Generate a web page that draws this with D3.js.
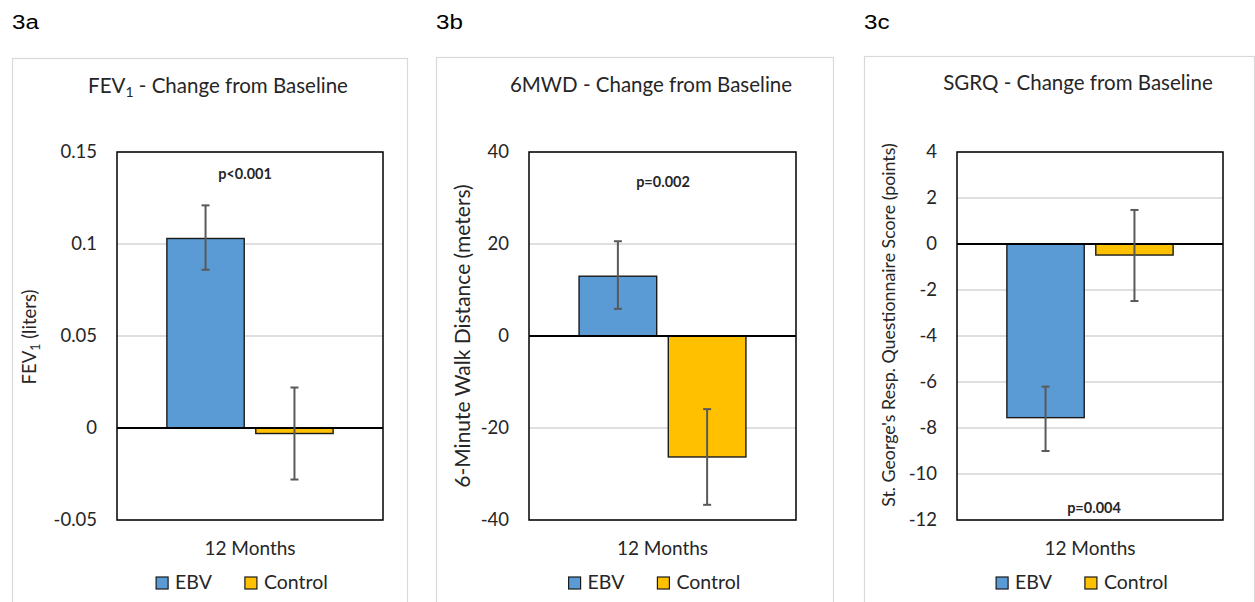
<!DOCTYPE html>
<html><head><meta charset="utf-8">
<script src="https://cdn.jsdelivr.net/npm/d3@7"></script>
<style>body{margin:0;background:#fff}svg{display:block}</style>
</head><body>
<svg id="c" width="1255" height="602"></svg>
<script>
// ---- data ----
const panelLabels = ["3a", "3b", "3c"];
const titleMain = ["FEV", "6MWD", "SGRQ"];
const titleSub = ["1", "", ""];
const titleRest = " - Change from Baseline";
const yTitleMain = ["FEV", "6-Minute Walk Distance (meters)", "St. George's Resp. Questionnaire Score (points)"];
const yTitleSub = ["1", "", ""];
const yTitleRest = [" (liters)", "", ""];
const categories = ["12 Months"];
const seriesNames = ["EBV", "Control"];
const ebvValues = [0.103, 13.0, -7.55];
const controlValues = [-0.003, -26.3, -0.48];
const ebvErrLow = [0.086, 5.9, -9.0];
const ebvErrHigh = [0.121, 20.6, -6.2];
const controlErrLow = [-0.028, -36.7, -2.48];
const controlErrHigh = [0.022, -15.9, 1.48];
const yTicks = [
  [-0.05, 0, 0.05, 0.1, 0.15],
  [-40, -20, 0, 20, 40],
  [-12, -10, -8, -6, -4, -2, 0, 2, 4]
];
const pLabels = ["p<0.001", "p=0.002", "p=0.004"];
const seriesColors = ["#5b9bd5", "#ffc000"];

// ---- layout ----
const FONT = "Lato, 'Open Sans', sans-serif";
const TXT = "#262626";
const plotTop = 152, plotBottom = 520;
const layout = [
  {box: [12, 58, 407], plot: [117, 383], titleX: 218, titleY: 93, yTitleX: 30, yTitleY: 337, yTitleSize: 18.5, p: [245, 179]},
  {box: [436, 57, 833], plot: [529, 796], titleX: 651, titleY: 92, yTitleX: 463, yTitleY: 336, yTitleSize: 21, p: [663, 187]},
  {box: [864, 56, 1254], plot: [957, 1223], titleX: 1078, titleY: 90, yTitleX: 889, yTitleY: 325, yTitleSize: 17.8, p: [1094, 513]}
];

const svg = d3.select("#c");
svg.append("rect").attr("width", 1255).attr("height", 602).attr("fill", "#fff");

panelLabels.forEach((lab, i) => {
  const L = layout[i];
  const g = svg.append("g");
  // panel label
  g.append("text").attr("transform", `translate(${L.box[0]},29) scale(1.15,1)`)
    .attr("font-family", "'Liberation Sans', Arial, sans-serif").attr("font-size", 21)
    .attr("fill", "#000").text(lab);
  // chart area border
  g.append("rect").attr("x", L.box[0] + 0.5).attr("y", L.box[1] + 0.5)
    .attr("width", L.box[2] - L.box[0]).attr("height", 620 - L.box[1])
    .attr("fill", "#fff").attr("stroke", "#d9d9d9").attr("stroke-width", 1.2);

  // title
  const t = g.append("text").attr("x", L.titleX).attr("y", L.titleY)
    .attr("text-anchor", "middle").attr("font-family", FONT).attr("font-size", 20.5).attr("fill", TXT);
  t.append("tspan").text(titleMain[i]);
  if (titleSub[i]) {
    t.append("tspan").attr("dy", 4).attr("font-size", 14).text(titleSub[i]);
    t.append("tspan").attr("dy", -4).text(titleRest);
  } else t.append("tspan").text(titleRest);

  const ticks = yTicks[i];
  const y = d3.scaleLinear().domain(d3.extent(ticks)).range([plotBottom, plotTop]);
  const x0 = d3.scaleBand().domain(categories).range(L.plot).paddingInner(0).paddingOuter(0.3);
  const x1 = d3.scaleBand().domain(seriesNames).range([0, x0.bandwidth()]).paddingInner(0.13);

  // gridlines
  g.append("g").selectAll("line").data(ticks.filter(v => v !== 0))
    .join("line").attr("x1", L.plot[0]).attr("x2", L.plot[1])
    .attr("y1", d => y(d)).attr("y2", d => y(d))
    .attr("stroke", "#bfbfbf").attr("stroke-width", 1.2);

  // y axis tick labels
  const axis = d3.axisLeft(y).tickValues(ticks).tickSize(0).tickPadding(20).tickFormat(d3.format("~g"));
  const ag = g.append("g").attr("transform", `translate(${L.plot[0]},0)`).call(axis);
  ag.select(".domain").remove();
  ag.selectAll("text").attr("font-family", FONT).attr("font-size", 18.5).attr("fill", TXT)
    .text(d => (d < 0 ? "-" : "") + d3.format("~g")(Math.abs(d)));

  // y title
  const yt = g.append("text").attr("transform", `translate(${L.yTitleX},${L.yTitleY}) rotate(-90)`)
    .attr("text-anchor", "middle").attr("dy", "0.35em")
    .attr("font-family", FONT).attr("font-size", L.yTitleSize).attr("fill", TXT);
  yt.append("tspan").text(yTitleMain[i]);
  if (yTitleSub[i]) {
    yt.append("tspan").attr("dy", 4).attr("font-size", 12.5).text(yTitleSub[i]);
    yt.append("tspan").attr("dy", -4).text(yTitleRest[i]);
  }

  // bars
  const rows = [
    {s: seriesNames[0], v: ebvValues[i], lo: ebvErrLow[i], hi: ebvErrHigh[i], c: seriesColors[0]},
    {s: seriesNames[1], v: controlValues[i], lo: controlErrLow[i], hi: controlErrHigh[i], c: seriesColors[1]}
  ];
  const bx = d => x0(categories[0]) + x1(d.s);
  g.append("g").selectAll("rect").data(rows).join("rect")
    .attr("x", bx).attr("width", x1.bandwidth())
    .attr("y", d => Math.min(y(0), y(d.v))).attr("height", d => Math.abs(y(d.v) - y(0)))
    .attr("fill", d => d.c).attr("stroke", "#1a1a1a").attr("stroke-width", 1.4);

  // plot border
  g.append("rect").attr("x", L.plot[0]).attr("y", plotTop)
    .attr("width", L.plot[1] - L.plot[0]).attr("height", plotBottom - plotTop)
    .attr("fill", "none").attr("stroke", "#000").attr("stroke-width", 1.5);
  // zero line
  g.append("line").attr("x1", L.plot[0]).attr("x2", L.plot[1]).attr("y1", y(0)).attr("y2", y(0))
    .attr("stroke", "#000").attr("stroke-width", 2);

  // error bars
  const eg = g.append("g").attr("stroke", "#595959").attr("stroke-width", 2);
  rows.forEach(d => {
    const cx = bx(d) + x1.bandwidth() / 2;
    eg.append("line").attr("x1", cx).attr("x2", cx).attr("y1", y(d.lo)).attr("y2", y(d.hi));
    eg.append("line").attr("x1", cx - 4).attr("x2", cx + 4).attr("y1", y(d.lo)).attr("y2", y(d.lo));
    eg.append("line").attr("x1", cx - 4).attr("x2", cx + 4).attr("y1", y(d.hi)).attr("y2", y(d.hi));
  });

  // p value
  g.append("text").attr("x", L.p[0]).attr("y", L.p[1]).attr("text-anchor", "middle")
    .attr("font-family", FONT).attr("font-weight", "bold").attr("font-size", 14.5).attr("fill", TXT)
    .text(pLabels[i]);

  // category label
  const cx = x0(categories[0]) + x0.bandwidth() / 2;
  g.append("text").attr("x", cx).attr("y", 555).attr("text-anchor", "middle")
    .attr("font-family", FONT).attr("font-size", 19).attr("fill", TXT).text(categories[0]);

  // legend
  const lg = g.append("g");
  let xpos = 0;
  const gap = 33;
  seriesNames.forEach((s, k) => {
    const it = lg.append("g").attr("transform", `translate(${xpos},0)`);
    it.append("rect").attr("x", 0).attr("y", -11).attr("width", 12).attr("height", 12)
      .attr("fill", seriesColors[k]).attr("stroke", "#1a1a1a").attr("stroke-width", 1.2);
    const tx = it.append("text").attr("x", 19).attr("y", 1)
      .attr("font-family", FONT).attr("font-size", 19.5).attr("fill", TXT).text(s);
    xpos += 19 + tx.node().getComputedTextLength() + gap;
  });
  const totalW = xpos - gap;
  lg.attr("transform", `translate(${cx - totalW / 2 - 8},588)`);
});
</script>
</body></html>
